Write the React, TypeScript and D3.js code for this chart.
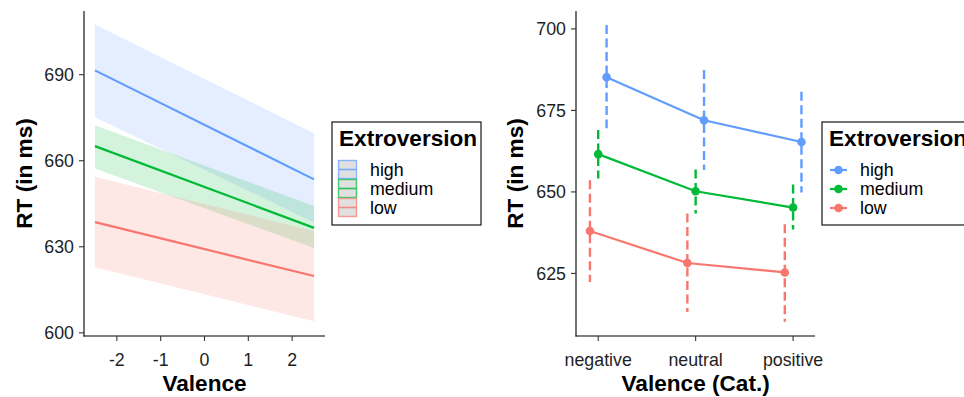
import React from "react";
import * as d3 from "d3";

// left panel: model fits + 95% bands at the ends of the valence range
const valenceEnds = [-2.5, 2.5];
const groups = ["high", "medium", "low"];
const colors = ["#619CFF", "#00BA38", "#F8766D"];
const fitHigh = [691.5, 653.5];
const upperHigh = [707.5, 669.5];
const lowerHigh = [675.2, 638.5];
const fitMedium = [665.1, 636.6];
const upperMedium = [672.4, 644.2];
const lowerMedium = [657.3, 629.6];
const fitLow = [638.6, 619.8];
const upperLow = [654.4, 635.4];
const lowerLow = [622.9, 604.0];
const leftTicksX = [-2, -1, 0, 1, 2];
const leftTicksY = [600, 630, 660, 690];

// right panel: categorical valence means + CIs
const categories = ["negative", "neutral", "positive"];
const meanHigh = [685.2, 672.0, 665.3];
const ciHighTop = [701.2, 687.4, 680.7];
const ciHighBot = [669.5, 656.7, 649.8];
const meanMedium = [661.6, 650.2, 645.2];
const ciMediumTop = [669.0, 656.9, 652.3];
const ciMediumBot = [654.1, 643.4, 638.5];
const meanLow = [638.0, 628.2, 625.3];
const ciLowTop = [653.6, 643.4, 640.1];
const ciLowBot = [622.4, 613.2, 610.2];
const rightTicksY = [625, 650, 675, 700];
const dodge = [0.086, 0, -0.085];

const FONT = "'Liberation Sans', Arial, Helvetica, sans-serif";

export default function App() {
  const W = 964;
  const H = 397;

  // ---- left scales
  const xL = d3.scaleLinear().domain([-2.75, 2.75]).range([84, 325]);
  const yL = d3.scaleLinear().domain([598.9, 712.2]).range([336, 11]);

  const bands = [
    { fit: fitHigh, up: upperHigh, lo: lowerHigh },
    { fit: fitMedium, up: upperMedium, lo: lowerMedium },
    { fit: fitLow, up: upperLow, lo: lowerLow },
  ];

  const area = d3
    .area<number>()
    .x((_, i) => xL(valenceEnds[i]));

  // ---- right scales
  const xR = d3.scaleLinear().domain([-0.228, 2.225]).range([576, 815]);
  const yR = d3.scaleLinear().domain([605.8, 705.5]).range([336, 11]);

  const cats = [
    { m: meanHigh, t: ciHighTop, b: ciHighBot },
    { m: meanMedium, t: ciMediumTop, b: ciMediumBot },
    { m: meanLow, t: ciLowTop, b: ciLowBot },
  ];

  const tickStyle = { fontFamily: FONT, fontSize: 17.8, fill: "#1e1e1e" };
  const titleStyle = { fontFamily: FONT, fontSize: 22.6, fontWeight: 700, fill: "#000" };

  return (
    <svg
      width={W}
      height={H}
      viewBox={`0 0 ${W} ${H}`}
      style={{ position: "absolute", left: 0, top: 0, background: "#fff" }}
    >
      <rect width={W} height={H} fill="#fff" />

      {/* ===== left panel ===== */}
      <g>
        {bands.map((b, gi) => (
          <path
            key={"band" + gi}
            d={
              area
                .y0((_, i) => yL(b.lo[i]))
                .y1((_, i) => yL(b.up[i]))(b.fit) || ""
            }
            fill={colors[gi]}
            fillOpacity={0.17}
          />
        ))}
        {bands.map((b, gi) => (
          <path
            key={"fit" + gi}
            d={
              d3
                .line<number>()
                .x((_, i) => xL(valenceEnds[i]))
                .y((v) => yL(v))(b.fit) || ""
            }
            fill="none"
            stroke={colors[gi]}
            strokeWidth={2.2}
          />
        ))}

        {/* axes */}
        <line x1={84} x2={84} y1={11} y2={336.5} stroke="#000" strokeWidth={1.1} />
        <line x1={83.5} x2={325} y1={336} y2={336} stroke="#000" strokeWidth={1.1} />
        {leftTicksY.map((t) => (
          <g key={"ly" + t}>
            <line x1={79} x2={84} y1={yL(t)} y2={yL(t)} stroke="#333" strokeWidth={1.1} />
            <text x={74} y={yL(t)} dy="0.35em" textAnchor="end" style={tickStyle}>
              {t}
            </text>
          </g>
        ))}
        {leftTicksX.map((t) => (
          <g key={"lx" + t}>
            <line x1={xL(t)} x2={xL(t)} y1={336} y2={341} stroke="#333" strokeWidth={1.1} />
            <text x={xL(t)} y={366} textAnchor="middle" style={tickStyle}>
              {t}
            </text>
          </g>
        ))}
        <text x={xL(0)} y={391} textAnchor="middle" style={titleStyle}>
          Valence
        </text>
        <text
          transform={`translate(32,${(11 + 336) / 2}) rotate(-90)`}
          textAnchor="middle"
          style={titleStyle}
        >
          RT (in ms)
        </text>

        {/* legend */}
        <rect x={332} y={122} width={149} height={103} fill="#fff" stroke="#000" strokeWidth={1.1} />
        <text x={339} y={146} style={titleStyle}>
          Extroversion
        </text>
        {groups.map((g, i) => {
          const y0 = 160 + i * 19;
          return (
            <g key={"lk" + g}>
              <rect
                x={338.5}
                y={y0 + 0.5}
                width={18}
                height={18}
                fill="#e0e0e0"
                stroke={colors[i]}
                strokeOpacity={0.7}
                strokeWidth={1.4}
              />
              <line x1={339} x2={356} y1={y0 + 9.5} y2={y0 + 9.5} stroke={colors[i]} strokeOpacity={0.8} strokeWidth={1.6} />
              <text x={370} y={y0 + 9.5} dy="0.35em" style={{ ...tickStyle, fontSize: 17.8, fill: "#000" }}>
                {g}
              </text>
            </g>
          );
        })}
      </g>

      {/* ===== right panel ===== */}
      <g>
        {cats.map((c, gi) => (
          <g key={"cat" + gi}>
            <path
              d={
                d3
                  .line<number>()
                  .x((_, i) => xR(i + dodge[gi]))
                  .y((v) => yR(v))(c.m) || ""
              }
              fill="none"
              stroke={colors[gi]}
              strokeWidth={2.2}
            />
            {c.m.map((v, i) => (
              <g key={"pt" + i}>
                <line
                  x1={xR(i + dodge[gi])}
                  x2={xR(i + dodge[gi])}
                  y1={yR(c.t[i])}
                  y2={yR(c.b[i])}
                  stroke={colors[gi]}
                  strokeWidth={2.4}
                  strokeDasharray="9,4.5"
                />
                <circle cx={xR(i + dodge[gi])} cy={yR(v)} r={4.3} fill={colors[gi]} />
              </g>
            ))}
          </g>
        ))}

        <line x1={576} x2={576} y1={11} y2={336.5} stroke="#000" strokeWidth={1.1} />
        <line x1={575.5} x2={815} y1={336} y2={336} stroke="#000" strokeWidth={1.1} />
        {rightTicksY.map((t) => (
          <g key={"ry" + t}>
            <line x1={571} x2={576} y1={yR(t)} y2={yR(t)} stroke="#333" strokeWidth={1.1} />
            <text x={566} y={yR(t)} dy="0.35em" textAnchor="end" style={tickStyle}>
              {t}
            </text>
          </g>
        ))}
        {categories.map((c, i) => (
          <g key={"rx" + c}>
            <line x1={xR(i)} x2={xR(i)} y1={336} y2={341} stroke="#333" strokeWidth={1.1} />
            <text x={xR(i)} y={366} textAnchor="middle" style={tickStyle}>
              {c}
            </text>
          </g>
        ))}
        <text x={xR(1)} y={391} textAnchor="middle" style={titleStyle}>
          Valence (Cat.)
        </text>
        <text
          transform={`translate(523,${(11 + 336) / 2}) rotate(-90)`}
          textAnchor="middle"
          style={titleStyle}
        >
          RT (in ms)
        </text>

        {/* legend (clipped by page edge) */}
        <rect x={822} y={122} width={160} height={103} fill="#fff" stroke="#000" strokeWidth={1.1} />
        <text x={829} y={146} style={titleStyle}>
          Extroversion
        </text>
        {groups.map((g, i) => {
          const yc = 170 + i * 19;
          return (
            <g key={"rk" + g}>
              <line x1={830} x2={847} y1={yc} y2={yc} stroke={colors[i]} strokeWidth={2.2} />
              <circle cx={838.5} cy={yc} r={4.3} fill={colors[i]} />
              <text x={860} y={yc} dy="0.35em" style={{ ...tickStyle, fontSize: 17.8, fill: "#000" }}>
                {g}
              </text>
            </g>
          );
        })}
      </g>
    </svg>
  );
}
